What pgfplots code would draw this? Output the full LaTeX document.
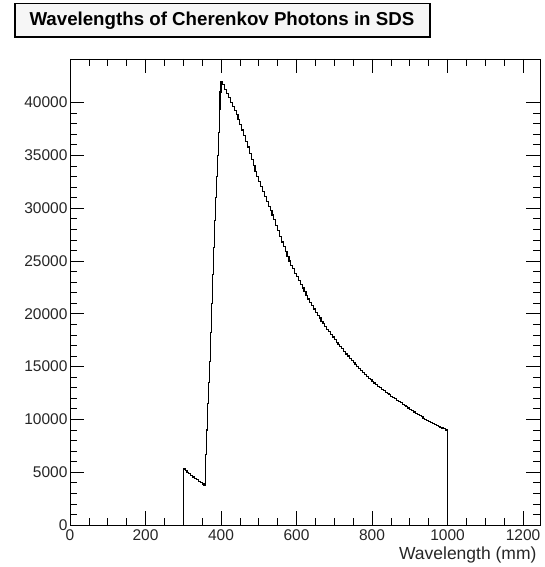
\documentclass[border=0pt]{standalone}
\usepackage{fontspec}
\setmainfont{Liberation Sans}
\usepackage{pgfplots}
\pgfplotsset{compat=1.18}
\usepackage{pgfplotstable}

\pgfplotstableread{
x y
300 0
300 5300
305 5150
310 5000
315 4850
320 4700
325 4550
330 4420
335 4280
340 4150
345 4000
350 3880
355 3740
360 6650
362.5 9000
365 11500
367.5 13500
370 15500
372.5 18200
375 21000
377.5 23700
380 26300
382.5 28800
385 31000
387.5 33000
390 35000
392.5 37200
395 39400
397.5 41000
400 42000
405 41700
410 41250
415 40850
420 40450
425 40050
430 39650
435 39250
440 38850
445 38400
450 37900
455 37400
460 36900
465 36350
470 35800
475 35200
480 34600
485 34050
490 33500
495 33000
500 32500
505 32050
510 31600
515 31100
520 30600
525 30200
530 29800
535 29350
540 28900
545 28400
550 27900
555 27350
560 26800
565 26350
570 25900
575 25450
580 25000
585 24600
590 24250
595 23850
600 23500
605 23150
610 22800
615 22450
620 22100
625 21750
630 21400
635 21050
640 20750
645 20450
650 20150
655 19850
660 19600
665 19300
670 19050
675 18800
680 18550
685 18300
690 18050
695 17800
700 17550
705 17300
710 17100
715 16900
720 16700
725 16450
730 16200
735 16000
740 15800
745 15600
750 15400
755 15200
760 15000
765 14800
770 14600
775 14420
780 14250
785 14080
790 13900
795 13750
800 13600
805 13450
810 13300
815 13150
820 13000
825 12850
830 12700
835 12580
840 12450
845 12320
850 12200
855 12080
860 11950
865 11820
870 11700
875 11580
880 11450
885 11320
890 11200
895 11080
900 10950
905 10820
910 10700
915 10580
920 10450
925 10350
930 10250
935 10120
940 10000
945 9900
950 9800
955 9700
960 9600
965 9520
970 9450
975 9350
980 9250
985 9180
990 9100
995 9000
1000 0
}\spectrum

\begin{document}
\begin{tikzpicture}[x=1pt,y=1pt]
\path[use as bounding box] (0,0) rectangle (544,567);
\begin{axis}[
  at={(70pt,42pt)}, anchor=south west,
  scale only axis, width=470pt, height=466pt,
  xmin=0, xmax=1245, ymin=0, ymax=44130,
  axis line style={line width=0.9pt},
  xtick={0,200,...,1200}, minor x tick num=3,
  ytick={0,5000,...,40000}, minor y tick num=4,
  tick align=inside, xtick pos=both, ytick pos=both,
  major tick length=14pt, minor tick length=7pt,
  tick style={line width=0.7pt, black},
  scaled y ticks=false, scaled x ticks=false,
  /pgf/number format/.cd, 1000 sep={}, assume math mode=true,
  /pgfplots/.cd,
  tick label style={font=\fontsize{15.5}{16}\selectfont, text=black!85},
  xticklabel style={yshift=-1.5pt},
  yticklabel style={xshift=1pt},
  xlabel={Wavelength (mm)},
  xlabel style={at={(rel axis cs:1,0)}, anchor=base east, yshift=-34.5pt, font=\fontsize{17.5}{18}\selectfont, text=black!85},
]
\addplot[const plot mark left, black, line width=1.15pt, line join=miter] table[x=x,y=y] {\spectrum};
\end{axis}
\draw[line width=0.9pt, fill=gray!7] (15,530) rectangle (430,563.5);
\draw[line width=1.6pt] (15,563.5) -- (15,530) -- (430,530) -- (430,563.5);
\node[anchor=base west, inner sep=0pt, font=\bfseries\fontsize{18.7}{20}\selectfont] at (29.3,541) {Wavelengths of Cherenkov Photons in SDS};
\end{tikzpicture}
\end{document}
